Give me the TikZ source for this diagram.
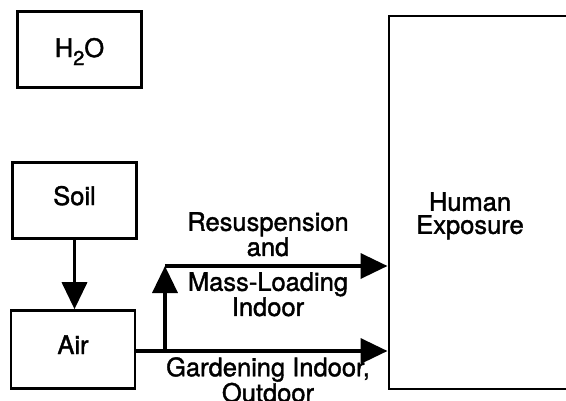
\documentclass[tikz,border=0pt]{standalone}
\usepackage{fontspec}
\setmainfont{TeX Gyre Heros}
\newfontfamily\inkfont{TeX Gyre Heros}[FakeBold=1.5]
\usetikzlibrary{arrows.meta,positioning}

\begin{document}
\begin{tikzpicture}[x=1pt,y=-1pt]
\tikzstyle{compartment}=[draw, line width=2.6pt, inner sep=0pt, minimum width=124pt, minimum height=76pt, text height=17pt, text depth=8pt, font=\inkfont\fontsize{25.5}{23}\selectfont]
\tikzstyle{pathway}=[line width=3.6pt, -{Triangle[length=27pt,width=25pt]}]
\tikzstyle{route}=[inner sep=0pt, anchor=north, align=center, font=\inkfont\fontsize{25.5}{23}\selectfont]

\useasboundingbox (0,0) rectangle (566,400);

%% ========== COMPARTMENTS ==========
\node[compartment, text depth=2pt] (water) at (79.5,49.5) {H\raisebox{-8pt}{\fontsize{20}{19}\selectfont 2}O};
\node[compartment] (soil) at (74.5,200.5) {Soil};
\node[compartment, minimum height=78pt] (air) at (73,349.5) {Air};

% Receptor (runs off the right edge)
\node[compartment, minimum width=260pt, minimum height=373pt, anchor=north west] (human) at (387.5,14.5) {};
\node[route] (humanlbl) at (470,192) {Human\\Exposure};

%% ========== PATHWAYS ==========
\coordinate (split) at (165,351);
\coordinate (bend) at (165,266);

\draw[pathway] (soil.south) -- (soil.south |- air.north);
\draw[pathway] (air.east |- split) -- (split -| human.west);
\draw[pathway] (split) -- (bend);
\draw[pathway] (bend) -- (bend -| human.west);

%% ========== LABELS ==========
\node[route] (resusp) at (268,212) {Resuspension\\and};
\node[route] (massload) at (268,272) {Mass-Loading\\Indoor};
\node[route] (garden) at (268,357) {Gardening Indoor,\\Outdoor};

\end{tikzpicture}
\end{document}
